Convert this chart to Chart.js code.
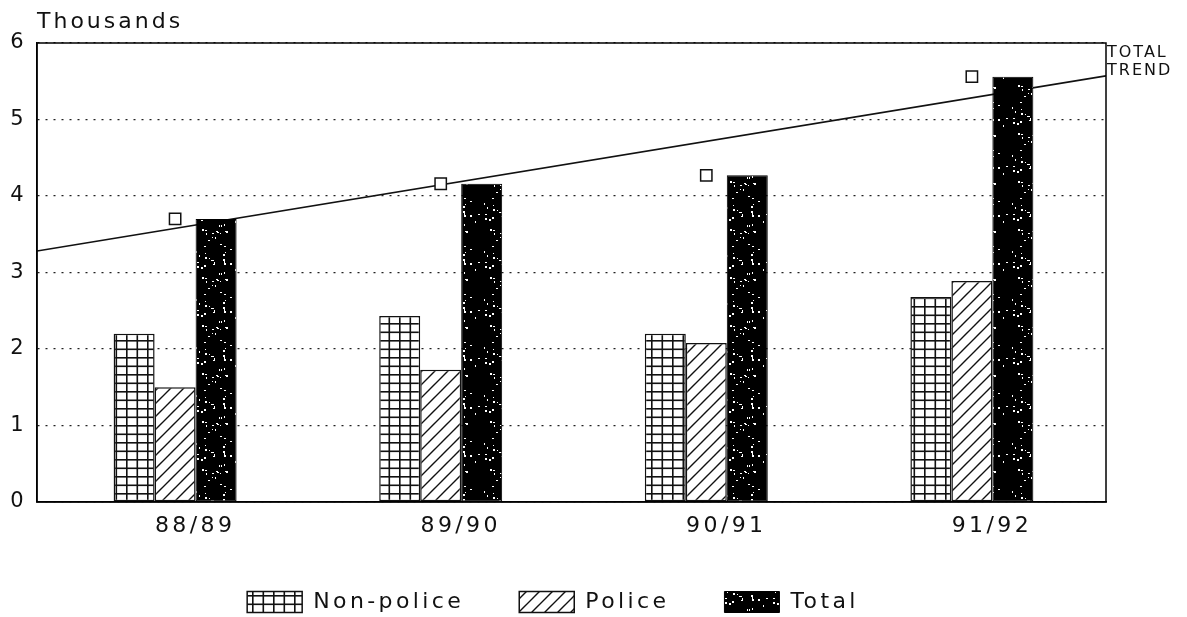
<!DOCTYPE html>
<html>
<head>
<meta charset="utf-8">
<script src="https://cdn.jsdelivr.net/npm/chart.js@4.4.0/dist/chart.umd.min.js"></script>
<style>
  html, body { margin: 0; padding: 0; background: #fff; }
  canvas { display: block; }
</style>
</head>
<body>
<canvas id="c" width="1187" height="617"></canvas>
<script>
// ---- data ----
const categories = ['88/89', '89/90', '90/91', '91/92'];
const nonPolice  = [2.20, 2.43, 2.20, 2.68];
const police     = [1.50, 1.73, 2.08, 2.89];
const total      = [3.70, 4.16, 4.27, 5.56];
const trendEnds  = [3.28, 5.57];          // trend value at left / right edge of plot
const yTicks     = [0, 1, 2, 3, 4, 5, 6];
const unitLabel  = 'Thousands';
const trendLabel = ['TOTAL', 'TREND'];

// ---- styling ----
const FONT = "'DejaVu Sans', sans-serif";
const INK = '#111';
const SPACING = '3.4px';
const X_MIN = -0.52, X_MAX = 3.505;

function makeGrid() {
  const w = 10.5, h = 8.5;
  const c = document.createElement('canvas'); c.width = 21; c.height = 17;
  const g = c.getContext('2d');
  g.fillStyle = '#fff'; g.fillRect(0, 0, 21, 17);
  g.fillStyle = '#111';
  g.fillRect(0, 0, 21, 1.6); g.fillRect(0, h, 21, 1.6);
  g.fillRect(0, 0, 1.6, 17); g.fillRect(w, 0, 1.6, 17);
  return g.createPattern(c, 'repeat');
}
function makeHatch() {
  const s = 13;
  const c = document.createElement('canvas'); c.width = s; c.height = s;
  const g = c.getContext('2d');
  g.fillStyle = '#fff'; g.fillRect(0, 0, s, s);
  g.strokeStyle = '#111'; g.lineWidth = 1.4;
  g.beginPath();
  g.moveTo(-2, s + 2); g.lineTo(s + 2, -2);
  g.moveTo(-2, 2); g.lineTo(2, -2);
  g.moveTo(s - 2, s + 2); g.lineTo(s + 2, s - 2);
  g.stroke();
  return g.createPattern(c, 'repeat');
}
function makeSpeckle() {
  const s = 48;
  const c = document.createElement('canvas'); c.width = s; c.height = s;
  const g = c.getContext('2d');
  g.fillStyle = '#000'; g.fillRect(0, 0, s, s);
  g.fillStyle = '#fff';
  let seed = 12345;
  const next = () => { seed = (seed * 1103515245 + 12345) & 0x7fffffff; return seed / 0x7fffffff; };
  for (let i = 0; i < 40; i++) {
    const x = Math.floor(next() * s), y = Math.floor(next() * s);
    const w = 1 + Math.floor(next() * 2), h = 1 + Math.floor(next() * 2);
    g.fillRect(x, y, w, h);
  }
  return g.createPattern(c, 'repeat');
}

const gridPat = makeGrid();
const hatchPat = makeHatch();
const specklePat = makeSpeckle();

const toXY = arr => arr.map((v, i) => ({ x: i, y: v }));

const styling = {
  id: 'styling',
  beforeLayout(chart) { chart.ctx.letterSpacing = SPACING; },
  beforeDraw(chart) {
    const ctx = chart.ctx;
    ctx.save();
    ctx.fillStyle = '#fff';
    ctx.fillRect(0, 0, chart.width, chart.height);
    ctx.restore();
    ctx.letterSpacing = SPACING;
  },
  afterDatasetsDraw(chart) {
    const { ctx, chartArea: a } = chart;
    ctx.save();
    ctx.strokeStyle = '#000';
    ctx.lineWidth = 1.5;
    ctx.strokeRect(a.left, a.top, a.right - a.left, a.bottom - a.top);
    ctx.restore();
  },
  afterDraw(chart) {
    const { ctx, chartArea: a } = chart;
    ctx.save();
    ctx.fillStyle = INK;
    ctx.textBaseline = 'middle';
    ctx.textAlign = 'left';
    ctx.letterSpacing = '3px';
    ctx.font = "22px " + FONT;
    ctx.fillText(unitLabel, a.left, 22);
    ctx.letterSpacing = '2px';
    ctx.font = "16px " + FONT;
    ctx.fillText(trendLabel[0], a.right + 1, 53);
    ctx.fillText(trendLabel[1], a.right + 1, 71);
    ctx.restore();
  }
};

new Chart(document.getElementById('c'), {
  type: 'bar',
  data: {
    datasets: [
      { label: 'Non-police', data: toXY(nonPolice), backgroundColor: gridPat,
        borderColor: '#111', borderWidth: 1.5, borderSkipped: false, order: 2 },
      { label: 'Police', data: toXY(police), backgroundColor: hatchPat,
        borderColor: '#111', borderWidth: 1.5, borderSkipped: false, order: 2 },
      { label: 'Total', data: toXY(total), backgroundColor: specklePat,
        borderColor: '#000', borderWidth: 1, borderSkipped: false, order: 2 },
      { type: 'line', label: 'Total trend',
        data: [{ x: X_MIN, y: trendEnds[0] }, { x: X_MAX, y: trendEnds[1] }],
        borderColor: '#111', borderWidth: 1.6, pointRadius: 0, fill: false, order: 3 },
      { type: 'line', label: 'Total points', data: toXY(total), showLine: false,
        pointStyle: 'rect', pointRadius: 8, pointBorderWidth: 1.5,
        pointBorderColor: '#111', pointBackgroundColor: '#fff', order: 1 }
    ]
  },
  options: {
    responsive: false,
    devicePixelRatio: 1,
    animation: false,
    layout: { padding: { top: 43, right: 81, left: 0, bottom: -6 } },
    datasets: { bar: { categoryPercentage: 0.463, barPercentage: 1.0 } },
    scales: {
      x: {
        type: 'linear', min: X_MIN, max: X_MAX, offset: false, bounds: 'data',
        afterBuildTicks(s) { s.ticks = categories.map((_, i) => ({ value: i })); },
        afterFit(s) { s.height = 34; },
        grid: { display: false, drawTicks: false, offset: false },
        border: { display: true, color: '#000', width: 1.5 },
        ticks: {
          color: INK, font: { family: FONT, size: 22 }, padding: 11,
          labelOffset: 20, maxRotation: 0, autoSkip: false,
          callback: v => categories[v]
        }
      },
      y: {
        min: 0, max: 6,
        afterBuildTicks(s) { s.ticks = yTicks.map(v => ({ value: v })); },
        afterFit(s) { s.width = 37; },
        grid: { color: '#222', lineWidth: 1.3, drawTicks: false },
        border: { display: true, color: '#000', width: 1.5, dash: [2, 6] },
        ticks: { color: INK, font: { family: FONT, size: 21 }, padding: 10 }
      }
    },
    plugins: {
      legend: {
        position: 'bottom',
        labels: {
          color: INK, font: { family: FONT, size: 22 },
          boxWidth: 55, boxHeight: 21, padding: 55,
          filter: item => item.datasetIndex <= 2
        }
      },
      tooltip: { enabled: false }
    }
  },
  plugins: [styling]
});
</script>
</body>
</html>
